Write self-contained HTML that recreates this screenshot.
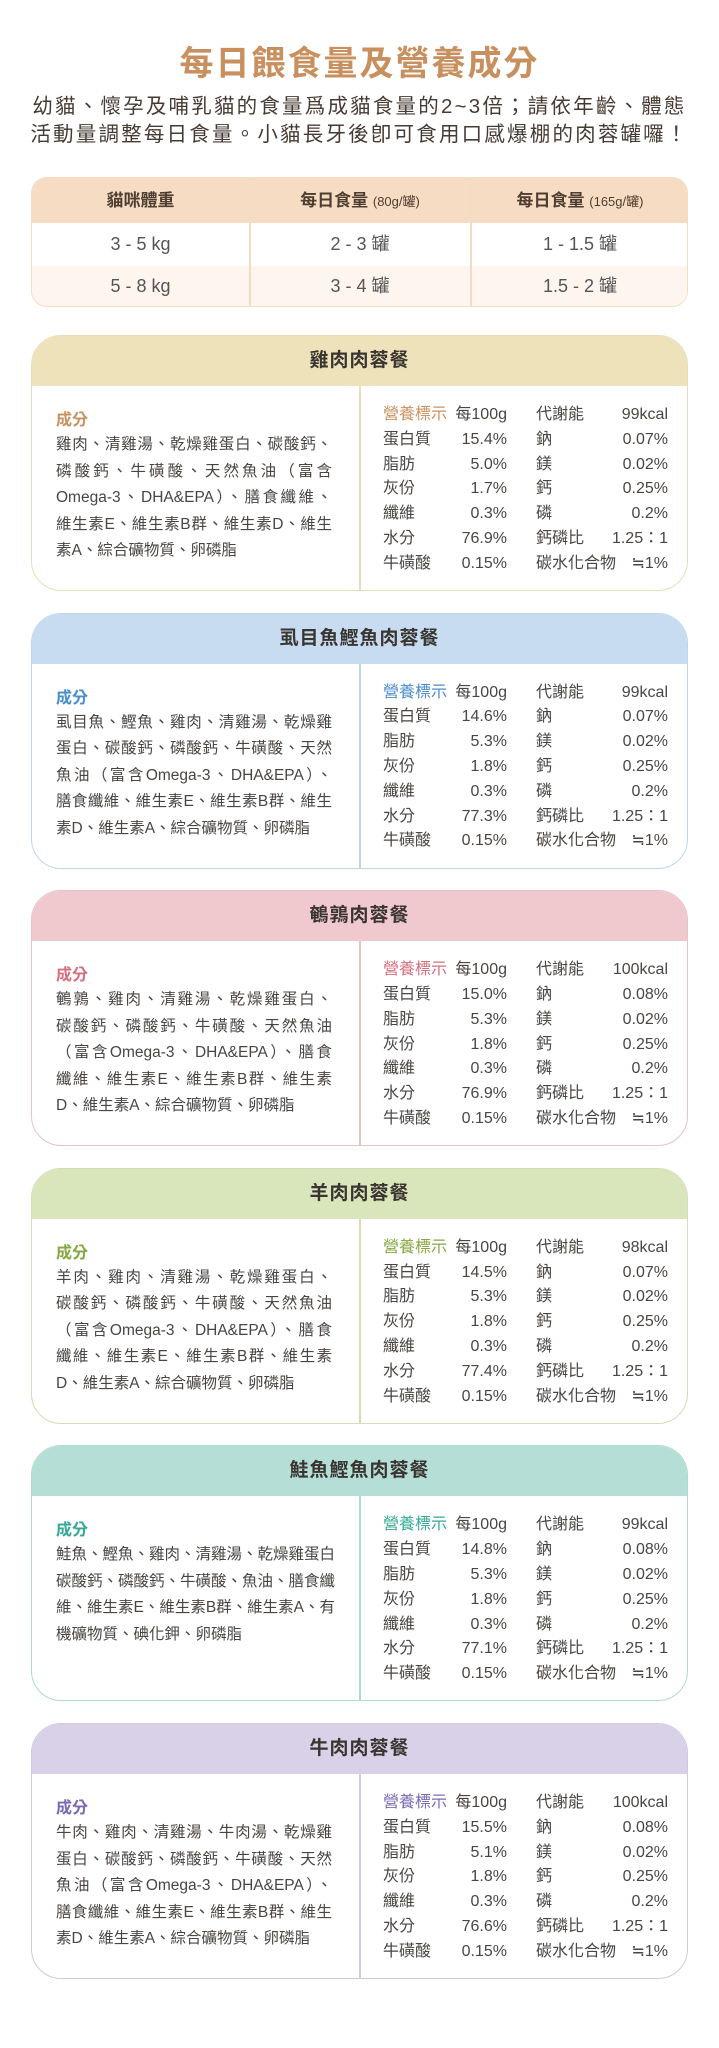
<!DOCTYPE html>
<html><head><meta charset="utf-8">
<style>
*{margin:0;padding:0;box-sizing:border-box}
body{width:719px;height:2048px;background:#fff;position:relative;overflow:hidden;font-family:"Liberation Sans","Noto Sans CJK TC",sans-serif;color:#4a4540}
.abs{position:absolute}
#title{left:0;width:719px;top:36px;text-align:center;font-size:34px;font-weight:bold;color:#c8905e;letter-spacing:2px}
.sub{left:0;width:719px;text-align:center;font-size:20.5px;color:#463b32;letter-spacing:2.2px;font-weight:normal}
#tbl{left:31px;top:177px;width:657px;height:130px;border:1.5px solid #f1dcc6;border-radius:16px;overflow:hidden}
.th{position:absolute;top:0;height:45px;background:#f6dcc3;line-height:45px;text-align:center;font-size:17px;font-weight:bold;color:#4e3d30}
.th small{font-size:13px;font-weight:normal}
.td{position:absolute;text-align:center;font-size:18px;color:#555;line-height:42px}
.card{position:absolute;left:31px;width:657px;height:256px;border:1.5px solid;border-radius:30px;overflow:hidden;background:#fff}
.ch{position:absolute;left:0;top:0;width:100%;height:50px;text-align:center;line-height:50px;font-size:19px;font-weight:bold;color:#3a3530;letter-spacing:1px}
.vd{position:absolute;left:327px;top:50px;width:1.5px;height:206px}
.lbl{position:absolute;left:24px;top:70px;font-size:16px;font-weight:bold}
.ing{position:absolute;left:24px;width:276px;font-size:15.5px;white-space:nowrap;height:20px;line-height:20px;color:#4a4540}
.j{text-align:justify;text-align-last:justify}
.nr{position:absolute;font-size:16px;line-height:20px;white-space:nowrap;color:#4a4540}
</style></head><body>
<div id="title" class="abs">每日餵食量及營養成分</div>
<div class="abs sub" style="top:89px">幼貓、懷孕及哺乳貓的食量爲成貓食量的2~3倍；請依年齡、體態</div>
<div class="abs sub" style="top:117px">活動量調整每日食量。小貓長牙後卽可食用口感爆棚的肉蓉罐囉！</div>

<div id="tbl" class="abs">
  <div class="th" style="left:0;width:217px">貓咪體重</div>
  <div class="th" style="left:218px;width:220px">每日食量 <small>(80g/罐)</small></div>
  <div class="th" style="left:439px;width:218px">每日食量 <small>(165g/罐)</small></div>
  <div class="abs" style="left:0;top:88px;width:657px;height:42px;background:#fdf5ee"></div>
  <div class="abs" style="left:217px;top:0;width:1.5px;height:130px;background:#f1dcc6"></div>
  <div class="abs" style="left:438px;top:0;width:1.5px;height:130px;background:#f1dcc6"></div>
  <div class="td" style="left:0;width:217px;top:45px">3 - 5 kg</div>
  <div class="td" style="left:218px;width:220px;top:45px">2 - 3 罐</div>
  <div class="td" style="left:439px;width:218px;top:45px">1 - 1.5 罐</div>
  <div class="td" style="left:0;width:217px;top:87px">5 - 8 kg</div>
  <div class="td" style="left:218px;width:220px;top:87px">3 - 4 罐</div>
  <div class="td" style="left:439px;width:218px;top:87px">1.5 - 2 罐</div>
</div>

<div id="cards"></div>
<script>
const cardNames=["雞肉肉蓉餐","虱目魚鰹魚肉蓉餐","鵪鶉肉蓉餐","羊肉肉蓉餐","鮭魚鰹魚肉蓉餐","牛肉肉蓉餐"];
const kcal=["99kcal","99kcal","100kcal","98kcal","99kcal","100kcal"];
const protein=["15.4%","14.6%","15.0%","14.5%","14.8%","15.5%"];
const fat=["5.0%","5.3%","5.3%","5.3%","5.3%","5.1%"];
const ash=["1.7%","1.8%","1.8%","1.8%","1.8%","1.8%"];
const fiber=["0.3%","0.3%","0.3%","0.3%","0.3%","0.3%"];
const water=["76.9%","77.3%","76.9%","77.4%","77.1%","76.6%"];
const taurine=["0.15%","0.15%","0.15%","0.15%","0.15%","0.15%"];
const sodium=["0.07%","0.07%","0.08%","0.07%","0.08%","0.08%"];
const magnesium=["0.02%","0.02%","0.02%","0.02%","0.02%","0.02%"];
const calcium=["0.25%","0.25%","0.25%","0.25%","0.25%","0.25%"];
const phosphorus=["0.2%","0.2%","0.2%","0.2%","0.2%","0.2%"];
const ingredients=[
["雞肉、清雞湯、乾燥雞蛋白、碳酸鈣、","磷酸鈣、牛磺酸、天然魚油（富含","Omega-3、DHA&EPA）、膳食纖維、","維生素E、維生素B群、維生素D、維生","素A、綜合礦物質、卵磷脂"],
["虱目魚、鰹魚、雞肉、清雞湯、乾燥雞","蛋白、碳酸鈣、磷酸鈣、牛磺酸、天然","魚油（富含Omega-3、DHA&EPA）、","膳食纖維、維生素E、維生素B群、維生","素D、維生素A、綜合礦物質、卵磷脂"],
["鵪鶉、雞肉、清雞湯、乾燥雞蛋白、","碳酸鈣、磷酸鈣、牛磺酸、天然魚油","（富含Omega-3、DHA&EPA）、膳食","纖維、維生素E、維生素B群、維生素","D、維生素A、綜合礦物質、卵磷脂"],
["羊肉、雞肉、清雞湯、乾燥雞蛋白、","碳酸鈣、磷酸鈣、牛磺酸、天然魚油","（富含Omega-3、DHA&EPA）、膳食","纖維、維生素E、維生素B群、維生素","D、維生素A、綜合礦物質、卵磷脂"],
["鮭魚、鰹魚、雞肉、清雞湯、乾燥雞蛋白","碳酸鈣、磷酸鈣、牛磺酸、魚油、膳食纖","維、維生素E、維生素B群、維生素A、有","機礦物質、碘化鉀、卵磷脂"],
["牛肉、雞肉、清雞湯、牛肉湯、乾燥雞","蛋白、碳酸鈣、磷酸鈣、牛磺酸、天然","魚油（富含Omega-3、DHA&EPA）、","膳食纖維、維生素E、維生素B群、維生","素D、維生素A、綜合礦物質、卵磷脂"]
];
const headColors=["#eee2bb","#c7dcf1","#efc9cd","#d9e5ba","#b5ded7","#d9d1e8"];
const borderColors=["#e9ddb8","#bfd5ec","#e8c2c6","#d2dfb2","#aedad2","#d0c8e2"];
const accent=["#c8925f","#4a8dcb","#d3707f","#86a743","#34a795","#7b6ab2"];
const cardTop=335, cardStep=277.6;
const rowTop=69, rowStep=24.8;
const root=document.getElementById('cards');
function mk(parent,cls,txt,style){const d=document.createElement('div');d.className=cls;if(txt!==null)d.textContent=txt;if(style)d.setAttribute('style',style);parent.appendChild(d);return d;}
cardNames.forEach((name,i)=>{
  const c=mk(root,'card',null,'top:'+(cardTop+i*cardStep)+'px;border-color:'+borderColors[i]);
  
  
  const h=mk(c,'ch',name,'background:'+headColors[i]);
  
  
  const v=mk(c,'vd',null,'background:'+borderColors[i]);
  
  
  const l=mk(c,'lbl','成分','color:'+accent[i]);
  
  
  const lines=ingredients[i];
  lines.forEach((t,k)=>{
    const just=(k<lines.length-1 && i!==4)?' j':'';
    const e=mk(c,'ing'+just,t,'top:'+(99+k*26.5)+'px');
    
    
  });
  const rows=[["營養標示","每100g","代謝能",kcal[i]],["蛋白質",protein[i],"鈉",sodium[i]],["脂肪",fat[i],"鎂",magnesium[i]],["灰份",ash[i],"鈣",calcium[i]],["纖維",fiber[i],"磷",phosphorus[i]],["水分",water[i],"鈣磷比","1.25：1"],["牛磺酸",taurine[i],"碳水化合物","≒1%"]];
  rows.forEach((r,k)=>{
    const y=rowTop+k*rowStep;
    const a=mk(c,'nr',r[0],'left:351px;top:'+y+'px'+(k===0?';color:'+accent[i]:''));
    
    
    const b=mk(c,'nr',r[1],'right:180px;top:'+y+'px');
    
    
    const d=mk(c,'nr',r[2],'left:504px;top:'+y+'px');
    
    
    const e=mk(c,'nr',r[3],'right:19px;top:'+y+'px');
    
    
  });
});
</script>
</body></html>
